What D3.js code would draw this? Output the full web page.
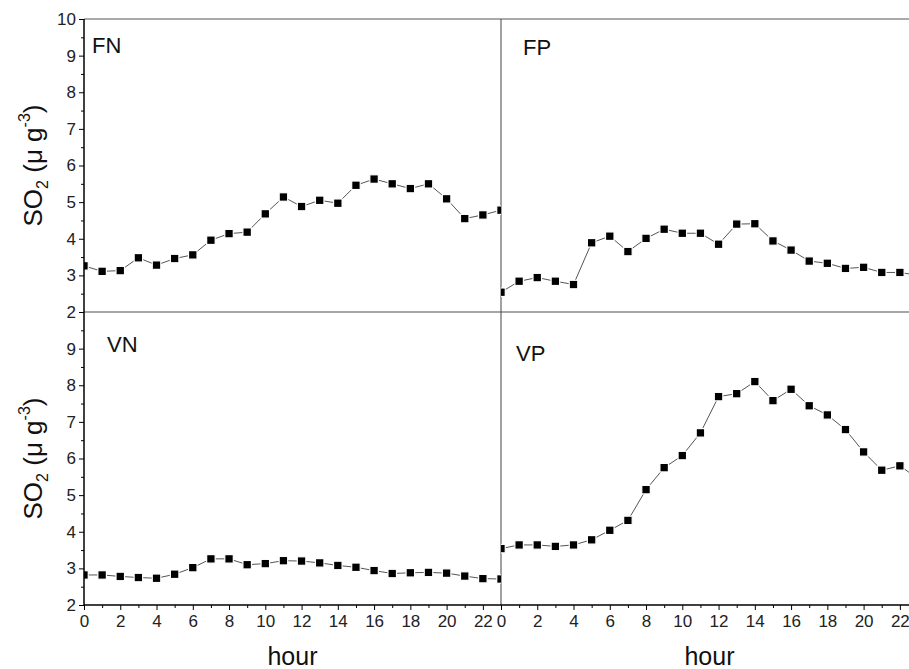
<!DOCTYPE html>
<html>
<head>
<meta charset="utf-8">
<script src="https://cdn.jsdelivr.net/npm/d3@7"></script>
<style>
body { margin: 0; background: #fff; }
svg { display: block; font-family: Arial, "Liberation Sans", sans-serif; }
</style>
</head>
<body>
<svg width="909" height="669"></svg>
<script>
// hourly SO2 values, one array per panel
var hours = d3.range(24);
var fnVals = [3.26, 3.11, 3.13, 3.48, 3.28, 3.46, 3.56, 3.96, 4.14, 4.18, 4.68, 5.14, 4.88, 5.05, 4.97, 5.46, 5.63, 5.50, 5.37, 5.50, 5.09, 4.55, 4.65, 4.78];
var fpVals = [2.54, 2.84, 2.94, 2.84, 2.75, 3.89, 4.07, 3.65, 4.01, 4.26, 4.15, 4.15, 3.85, 4.40, 4.41, 3.94, 3.69, 3.39, 3.33, 3.19, 3.22, 3.08, 3.08, 3.00];
var vnVals = [2.82, 2.82, 2.78, 2.75, 2.73, 2.84, 3.02, 3.26, 3.26, 3.10, 3.13, 3.21, 3.20, 3.15, 3.08, 3.03, 2.94, 2.86, 2.88, 2.89, 2.87, 2.79, 2.72, 2.71];
var vpVals = [3.54, 3.64, 3.64, 3.60, 3.64, 3.78, 4.04, 4.31, 5.15, 5.75, 6.08, 6.70, 7.69, 7.77, 8.10, 7.58, 7.89, 7.44, 7.19, 6.79, 6.18, 5.68, 5.80, 5.45];

var panelNames = ['FN', 'FP', 'VN', 'VP'];
var panelVals = [fnVals, fpVals, vnVals, vpVals];
var yTicksTop = [2, 3, 4, 5, 6, 7, 8, 9, 10];
var yTicksBottom = [2, 3, 4, 5, 6, 7, 8, 9];
var yMinor = d3.range(2.5, 10, 1);
var xTicks = d3.range(0, 23, 2);
var xMinor = d3.range(1, 24, 2);

var svg = d3.select('svg');
var marginL = 84, marginT = 19, pw = 417, ph = 293;

// label positions inside each panel
var labelPos = [[8, 34], [22, 36], [23, 40], [15, 49]];

var panels = panelNames.map(function(name, i) {
	var col = i % 2, row = Math.floor(i / 2);
	var x0 = marginL + col * pw, y0 = marginT + row * ph;
	return {
		name: name,
		vals: panelVals[i],
		col: col, row: row,
		x0: x0, y0: y0,
		x: d3.scaleLinear().domain([0, 23]).range([x0, x0 + pw]),
		y: d3.scaleLinear().domain([2, 10]).range([y0 + ph, y0])
	};
});

var defs = svg.append('defs');
panels.forEach(function(p, i) {
	defs.append('clipPath').attr('id', 'clip' + i)
		.append('rect')
			.attr('x', p.x0).attr('y', p.y0)
			.attr('width', pw).attr('height', ph);
});

// frame lines
svg.append('line').attr('x1', marginL).attr('x2', 909).attr('y1', marginT).attr('y2', marginT)
	.attr('stroke', '#555').attr('stroke-width', 1);
svg.append('line').attr('x1', marginL).attr('x2', 909).attr('y1', marginT + ph).attr('y2', marginT + ph)
	.attr('stroke', '#888').attr('stroke-width', 1.5);
svg.append('line').attr('x1', marginL + pw).attr('x2', marginL + pw).attr('y1', marginT).attr('y2', marginT + 2 * ph)
	.attr('stroke', '#444').attr('stroke-width', 1);

panels.forEach(function(p, i) {
	var g = svg.append('g').attr('clip-path', 'url(#clip' + i + ')');
	var line = d3.line()
		.x(function(d, j) { return p.x(hours[j]); })
		.y(function(d) { return p.y(d); });
	g.append('path')
		.datum(p.vals)
		.attr('d', line)
		.attr('fill', 'none')
		.attr('stroke', '#555')
		.attr('stroke-width', 1);
	g.selectAll('.pt')
		.data(p.vals)
		.enter()
		.append('rect')
			.attr('class', 'pt')
			.attr('width', 8.5).attr('height', 8.5)
			.attr('x', function(d, j) { return p.x(hours[j]) - 4.25; })
			.attr('y', function(d) { return p.y(d) - 4.25; })
			.attr('fill', '#000')
			.attr('stroke', '#fff')
			.attr('stroke-width', 1.2);

	svg.append('text')
		.attr('x', p.x0 + labelPos[i][0])
		.attr('y', p.y0 + labelPos[i][1])
		.attr('font-size', 22)
		.attr('fill', '#111')
		.text(p.name);

	// y axis on left panels
	if (p.col == 0) {
		var ya = svg.append('g')
			.attr('transform', 'translate(' + marginL + ',0)')
			.call(d3.axisLeft(p.y).tickValues(p.row == 0 ? yTicksTop : yTicksBottom).tickSize(5).tickPadding(3).tickFormat(d3.format('d')));
		ya.select('.domain').remove();
		ya.selectAll('text').attr('font-size', 17).attr('fill', '#222');
		var ym = svg.append('g')
			.attr('transform', 'translate(' + marginL + ',0)')
			.call(d3.axisLeft(p.y).tickValues(yMinor).tickSize(3).tickFormat(''));
		ym.select('.domain').remove();

		svg.append('text')
			.attr('transform', 'translate(' + 42 + ',' + (p.y0 + ph / 2) + ') rotate(-90)')
			.attr('text-anchor', 'middle')
			.attr('font-size', 26)
			.attr('fill', '#111')
			.call(function(t) {
				t.append('tspan').text('SO');
				t.append('tspan').attr('font-size', 16).attr('dy', 6).text('2');
				t.append('tspan').attr('dy', -6).text(' (\u03bc g');
				t.append('tspan').attr('font-size', 16).attr('dy', -12).text('-3');
				t.append('tspan').attr('dy', 12).text(')');
			});
	}

	// x axis on bottom panels
	if (p.row == 1) {
		var xa = svg.append('g')
			.attr('transform', 'translate(0,' + (marginT + 2 * ph) + ')')
			.call(d3.axisBottom(p.x).tickValues(xTicks).tickSize(5).tickPadding(5).tickFormat(d3.format('d')));
		xa.select('.domain').remove();
		xa.selectAll('text').attr('font-size', 17).attr('fill', '#222');
		var xm = svg.append('g')
			.attr('transform', 'translate(0,' + (marginT + 2 * ph) + ')')
			.call(d3.axisBottom(p.x).tickValues(xMinor).tickSize(3).tickFormat(''));
		xm.select('.domain').remove();

		svg.append('text')
			.attr('x', p.x0 + pw / 2)
			.attr('y', 665)
			.attr('text-anchor', 'middle')
			.attr('font-size', 25)
			.attr('fill', '#111')
			.text('hour');
	}
});

// main axis lines
svg.append('line').attr('x1', marginL).attr('x2', marginL).attr('y1', marginT).attr('y2', marginT + 2 * ph)
	.attr('stroke', '#000').attr('stroke-width', 1.5);
svg.append('line').attr('x1', marginL).attr('x2', 909).attr('y1', marginT + 2 * ph).attr('y2', marginT + 2 * ph)
	.attr('stroke', '#000').attr('stroke-width', 1.5);
</script>
</body>
</html>
